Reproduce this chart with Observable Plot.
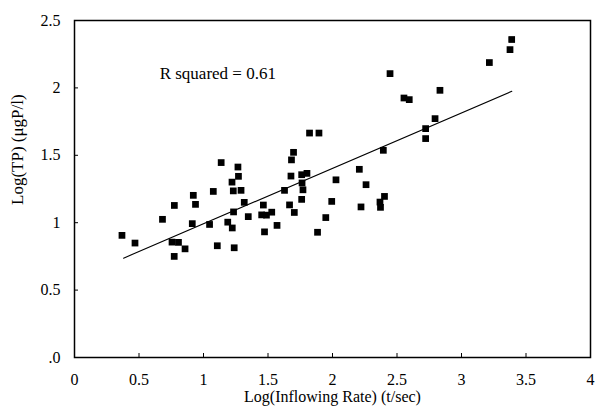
<!DOCTYPE html>
<html>
<head>
<meta charset="utf-8">
<script src="https://cdn.jsdelivr.net/npm/d3@7"></script>
<script src="https://cdn.jsdelivr.net/npm/@observablehq/plot@0.6"></script>
<style>
  html, body { margin: 0; padding: 0; background: white; }
</style>
</head>
<body>
<div id="chart"></div>
<script>
// Data
const logInflow = [0.368,0.469,0.682,0.774,0.756,0.806,0.773,0.857,0.921,0.938,0.913,1.076,1.047,1.107,1.137,1.267,1.271,1.221,1.231,1.291,1.233,1.316,1.188,1.223,1.238,1.347,1.464,1.451,1.488,1.529,1.473,1.570,1.628,1.667,1.704,1.698,1.682,1.678,1.761,1.802,1.764,1.771,1.761,1.822,1.895,1.884,1.948,1.994,2.027,2.208,2.260,2.221,2.372,2.368,2.403,2.394,2.446,2.554,2.595,2.833,2.795,2.722,2.722,3.216,3.376,3.389];
const logTP = [0.906,0.849,1.025,1.128,0.856,0.854,0.750,0.806,1.203,1.136,0.993,1.232,0.987,0.829,1.446,1.413,1.344,1.301,1.236,1.240,1.080,1.151,1.004,0.961,0.814,1.045,1.131,1.058,1.056,1.078,0.932,0.980,1.240,1.132,1.076,1.522,1.466,1.346,1.356,1.366,1.295,1.244,1.173,1.665,1.665,0.929,1.038,1.158,1.318,1.396,1.282,1.117,1.114,1.153,1.195,1.537,2.106,1.925,1.913,1.982,1.772,1.698,1.624,2.188,2.284,2.359];
const fitX = [0.38, 3.39];
const fitY = [0.737, 1.975];
const xTicks = [0, 0.5, 1, 1.5, 2, 2.5, 3, 3.5, 4];
const xTickLabels = ["0", "0.5", "1", "1.5", "2", "2.5", "3", "3.5", "4"];
const yTicks = [0, 0.5, 1, 1.5, 2, 2.5];
const yTickLabels = [".0", "0.5", "1", "1.5", "2", "2.5"];
const xTitle = "Log(Inflowing Rate) (t/sec)";
const yTitle = "Log(TP) (\u03BCgP/l)";
const annotation = "R squared = 0.61";
const annotationX = 0.66;
const annotationY = 2.108;

const points = logInflow.map((x, i) => ({x, y: logTP[i]}));
const fit = fitX.map((x, i) => ({x, y: fitY[i]}));

const chart = Plot.plot({
  width: 596,
  height: 411,
  marginLeft: 74,
  marginRight: 6,
  marginTop: 20,
  marginBottom: 54,
  style: {fontFamily: "'Liberation Serif', serif", fontSize: "16px", background: "white", color: "black"},
  x: {domain: [0, 4]},
  y: {domain: [0, 2.5]},
  marks: [
    Plot.frame({stroke: "black", strokeWidth: 1.5}),
    Plot.axisX({ticks: xTicks, tickSize: -4, tickPadding: 20, tickFormat: d => xTickLabels[xTicks.indexOf(d)], label: null, fontSize: 16}),
    Plot.axisY({ticks: yTicks, tickSize: -4, tickPadding: 18, tickFormat: d => yTickLabels[yTicks.indexOf(d)], label: null, fontSize: 16}),
    Plot.text([xTitle], {frameAnchor: "bottom", dy: 44, fontSize: 16}),
    Plot.text([yTitle], {frameAnchor: "left", rotate: -90, dx: -57, dy: 16, fontSize: 17}),
    Plot.text([annotation], {x: () => annotationX, y: () => annotationY, textAnchor: "start", fontSize: 17}),
    Plot.line(fit, {x: "x", y: "y", stroke: "black", strokeWidth: 1.1}),
    Plot.dot(points, {x: "x", y: "y", symbol: "square", r: 3.8, fill: "black", stroke: "none"})
  ]
});
document.getElementById("chart").appendChild(chart);
</script>
</body>
</html>
